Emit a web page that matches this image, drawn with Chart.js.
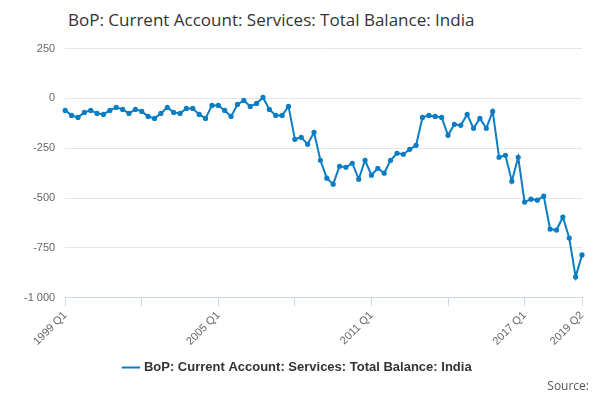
<!DOCTYPE html>
<html>
<head>
<meta charset="utf-8">
<script src="https://cdn.jsdelivr.net/npm/chart.js@4"></script>
<style>
  body { margin: 0; background: #fff; font-family: "Open Sans", sans-serif; }
  #wrap { position: relative; width: 600px; height: 400px; }
  h1 { position: absolute; left: 68px; top: 8px; margin: 0; font-size: 17px; font-weight: normal; color: #333; }
  #src { position: absolute; right: 11px; bottom: 6px; font-size: 12px; color: #555; }
  #box { position: absolute; left: 0; top: 32px; width: 600px; height: 352px; }
</style>
</head>
<body>
<div id="wrap">
  <h1>BoP: Current Account: Services: Total Balance: India</h1>
  <div id="box"><canvas id="chart"></canvas></div>
  <div id="src">Source:</div>
</div>
<script>
const seriesName = "BoP: Current Account: Services: Total Balance: India";
const quarters = [];
for (let y = 1999; y <= 2019; y++) {
  for (let q = 1; q <= 4; q++) {
    if (y === 2019 && q > 2) break;
    quarters.push(y + " Q" + q);
  }
}
const balance = [
  -60, -85, -95, -70, -60, -75, -80, -60, -45, -55,
  -75, -55, -65, -90, -100, -75, -45, -70, -75, -50,
  -50, -80, -100, -35, -35, -60, -90, -30, -10, -40,
  -25, 5, -55, -85, -85, -40, -205, -195, -230, -170,
  -310, -400, -430, -340, -345, -325, -405, -310, -385, -350,
  -375, -310, -275, -280, -255, -235, -95, -85, -90, -95,
  -185, -130, -135, -80, -150, -100, -150, -65, -295, -285,
  -415, -295, -520, -505, -510, -490, -655, -660, -595, -700,
  -895, -785
];
const tickIdx = [0, 12, 24, 36, 48, 60, 72, 81];
const labelIdx = [0, 24, 48, 72, 81];

new Chart(document.getElementById("chart"), {
  type: "line",
  data: {
    labels: quarters,
    datasets: [{
      label: seriesName,
      data: balance,
      borderColor: "#0b7dc3",
      backgroundColor: "#0b7dc3",
      borderWidth: 2,
      pointRadius: 1.6,
      tension: 0,
    }],
  },
  options: {
    animation: false,
    maintainAspectRatio: false,
    layout: { padding: { left: 14, right: 18 } },
    scales: {
      x: {
        afterBuildTicks: (axis) => { axis.ticks = tickIdx.map((v) => ({ value: v })); },
        ticks: {
          autoSkip: false,
          maxRotation: 45,
          minRotation: 45,
          color: "#666",
          font: { size: 11 },
          callback: (v) => (labelIdx.includes(v) ? quarters[v] : ""),
        },
        grid: { drawOnChartArea: false, drawTicks: true, tickLength: 8, color: "#ccd6eb" },
        border: { color: "#ccd6eb" },
      },
      y: {
        min: -1000,
        max: 250,
        ticks: {
          stepSize: 250,
          color: "#666",
          font: { size: 11 },
          padding: 10,
          callback: (v) => String(v).replace(/(\d)(?=(\d{3})$)/, "$1 "),
        },
        grid: { color: "#e6e6e6", drawTicks: false },
        border: { display: false },
      },
    },
    plugins: {
      legend: {
        position: "bottom",
        labels: { color: "#333", font: { size: 13, weight: "bold" }, usePointStyle: true, pointStyle: "line", boxWidth: 30 },
      },
      tooltip: { enabled: false },
    },
  },
});
</script>
</body>
</html>
